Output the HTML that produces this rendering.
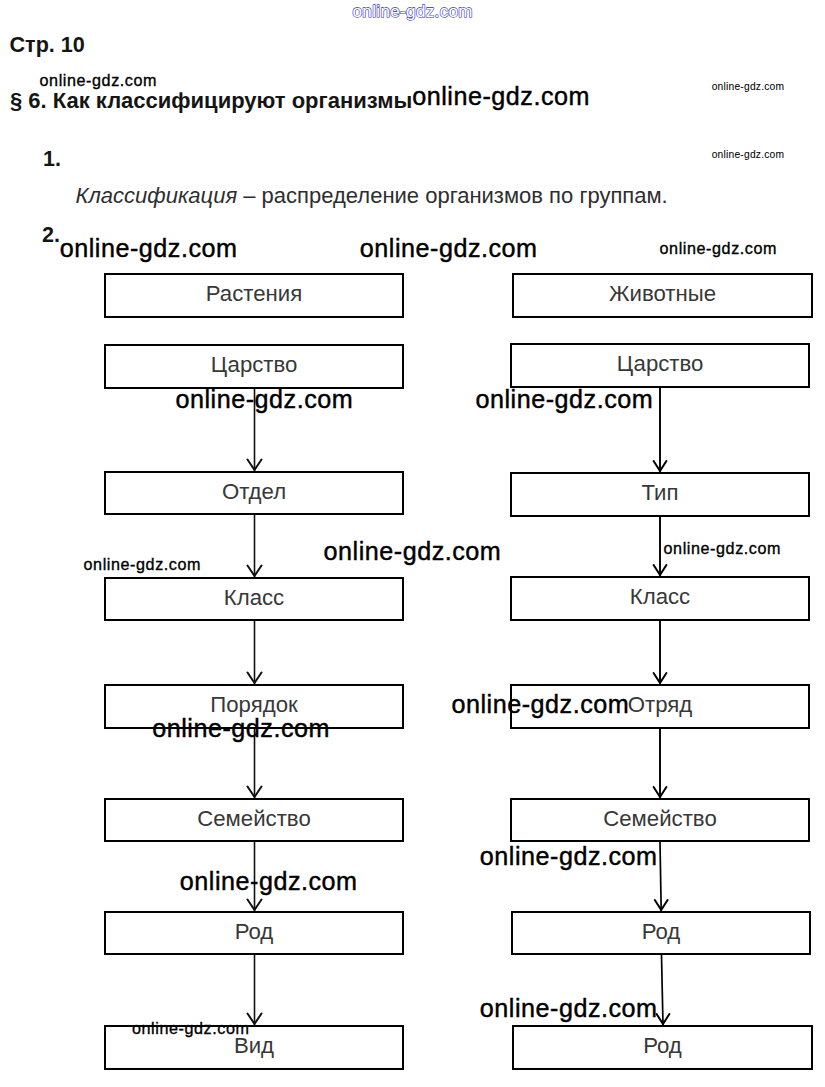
<!DOCTYPE html>
<html><head><meta charset="utf-8"><style>
html,body{margin:0;padding:0;background:#fff;}
svg{display:block;}
text{font-family:"Liberation Sans",sans-serif;}
.lb{font-size:22.2px;fill:#383838;}
.wm{fill:#000;}
.hd{font-weight:bold;fill:#151515;}
</style></head><body>
<svg width="825" height="1087" viewBox="0 0 825 1087">
<rect width="825" height="1087" fill="#fff"/>
<text x="352.5" y="17" font-size="17" textLength="120" lengthAdjust="spacing" fill="#2a2ad0" stroke="#2a2ad0" stroke-width="1.4" stroke-linejoin="round">online-gdz.com</text>
<text x="352.5" y="17" font-size="17" textLength="120" lengthAdjust="spacing" fill="#fff" stroke="#fff" stroke-width="0.25" stroke-linejoin="round">online-gdz.com</text>
<text x="9.5" y="51.9" font-size="21.6" class="hd">Стр. 10</text>
<text x="10" y="107.7" font-size="22" class="hd">§ 6. Как классифицируют организмы</text>
<text x="43" y="165.6" font-size="21.5" class="hd">1.</text>
<text x="42" y="241.6" font-size="21.5" class="hd">2.</text>
<text x="75.5" y="202.8" font-size="22" fill="#2e2e2e"><tspan font-style="italic">Классификация</tspan> – распределение организмов по группам.</text>
<rect x="105.0" y="274.0" width="298.0" height="43.0" fill="none" stroke="#000" stroke-width="2.0"/>
<text x="254.0" y="301" text-anchor="middle" class="lb">Растения</text>
<rect x="105.0" y="345.0" width="298.0" height="43.0" fill="none" stroke="#000" stroke-width="2.0"/>
<text x="254.0" y="372" text-anchor="middle" class="lb">Царство</text>
<rect x="105.0" y="472.0" width="298.0" height="42.0" fill="none" stroke="#000" stroke-width="2.0"/>
<text x="254.0" y="499" text-anchor="middle" class="lb">Отдел</text>
<rect x="105.0" y="578.0" width="298.0" height="42.0" fill="none" stroke="#000" stroke-width="2.0"/>
<text x="254.0" y="605" text-anchor="middle" class="lb">Класс</text>
<rect x="105.0" y="685.0" width="298.0" height="43.0" fill="none" stroke="#000" stroke-width="2.0"/>
<text x="254.0" y="712" text-anchor="middle" class="lb">Порядок</text>
<rect x="105.0" y="799.0" width="298.0" height="42.0" fill="none" stroke="#000" stroke-width="2.0"/>
<text x="254.0" y="826" text-anchor="middle" class="lb">Семейство</text>
<rect x="105.0" y="912.0" width="298.0" height="42.0" fill="none" stroke="#000" stroke-width="2.0"/>
<text x="254.0" y="939" text-anchor="middle" class="lb">Род</text>
<rect x="105.0" y="1026.0" width="298.0" height="43.0" fill="none" stroke="#000" stroke-width="2.0"/>
<text x="254.0" y="1053" text-anchor="middle" class="lb">Вид</text>
<rect x="513.0" y="274.0" width="299.0" height="43.0" fill="none" stroke="#000" stroke-width="2.0"/>
<text x="662.5" y="301" text-anchor="middle" class="lb">Животные</text>
<rect x="511.0" y="344.0" width="298.0" height="43.0" fill="none" stroke="#000" stroke-width="2.0"/>
<text x="660.0" y="371" text-anchor="middle" class="lb">Царство</text>
<rect x="511.0" y="473.0" width="298.0" height="43.0" fill="none" stroke="#000" stroke-width="2.0"/>
<text x="660.0" y="500" text-anchor="middle" class="lb">Тип</text>
<rect x="511.0" y="577.0" width="298.0" height="43.0" fill="none" stroke="#000" stroke-width="2.0"/>
<text x="660.0" y="604" text-anchor="middle" class="lb">Класс</text>
<rect x="511.0" y="685.0" width="298.0" height="43.0" fill="none" stroke="#000" stroke-width="2.0"/>
<text x="660.0" y="712" text-anchor="middle" class="lb">Отряд</text>
<rect x="511.0" y="799.0" width="298.0" height="42.0" fill="none" stroke="#000" stroke-width="2.0"/>
<text x="660.0" y="826" text-anchor="middle" class="lb">Семейство</text>
<rect x="512.0" y="912.0" width="298.0" height="42.0" fill="none" stroke="#000" stroke-width="2.0"/>
<text x="661.0" y="939" text-anchor="middle" class="lb">Род</text>
<rect x="513.0" y="1026.0" width="299.0" height="43.0" fill="none" stroke="#000" stroke-width="2.0"/>
<text x="662.5" y="1053" text-anchor="middle" class="lb">Род</text>
<line x1="254.5" y1="389" x2="254.5" y2="471" stroke="#111" stroke-width="1.6"/>
<polyline points="247.5,459.5 254.5,470 261.5,459.5" fill="none" stroke="#111" stroke-width="2" stroke-linejoin="round" stroke-linecap="round"/>
<line x1="254.5" y1="515" x2="254.5" y2="577" stroke="#111" stroke-width="1.6"/>
<polyline points="247.5,565.5 254.5,576 261.5,565.5" fill="none" stroke="#111" stroke-width="2" stroke-linejoin="round" stroke-linecap="round"/>
<line x1="254.5" y1="621" x2="254.5" y2="684" stroke="#111" stroke-width="1.6"/>
<polyline points="247.5,672.5 254.5,683 261.5,672.5" fill="none" stroke="#111" stroke-width="2" stroke-linejoin="round" stroke-linecap="round"/>
<line x1="254.5" y1="729" x2="254.5" y2="798" stroke="#111" stroke-width="1.6"/>
<polyline points="247.5,786.5 254.5,797 261.5,786.5" fill="none" stroke="#111" stroke-width="2" stroke-linejoin="round" stroke-linecap="round"/>
<line x1="254.5" y1="842" x2="254.5" y2="911" stroke="#111" stroke-width="1.6"/>
<polyline points="247.5,899.5 254.5,910 261.5,899.5" fill="none" stroke="#111" stroke-width="2" stroke-linejoin="round" stroke-linecap="round"/>
<line x1="254.5" y1="955" x2="254.5" y2="1025" stroke="#111" stroke-width="1.6"/>
<polyline points="247.5,1013.5 254.5,1024 261.5,1013.5" fill="none" stroke="#111" stroke-width="2" stroke-linejoin="round" stroke-linecap="round"/>
<line x1="660" y1="388" x2="660" y2="472" stroke="#000" stroke-width="1.9"/>
<polyline points="653.6,461 660,471 666.4,461" fill="none" stroke="#000" stroke-width="2" stroke-linejoin="round" stroke-linecap="round"/>
<line x1="660" y1="517" x2="660" y2="576" stroke="#000" stroke-width="1.9"/>
<polyline points="653.6,565 660,575 666.4,565" fill="none" stroke="#000" stroke-width="2" stroke-linejoin="round" stroke-linecap="round"/>
<line x1="660" y1="621" x2="660" y2="684" stroke="#000" stroke-width="1.9"/>
<polyline points="653.6,673 660,683 666.4,673" fill="none" stroke="#000" stroke-width="2" stroke-linejoin="round" stroke-linecap="round"/>
<line x1="660" y1="729" x2="660" y2="798" stroke="#000" stroke-width="1.9"/>
<polyline points="653.6,787 660,797 666.4,787" fill="none" stroke="#000" stroke-width="2" stroke-linejoin="round" stroke-linecap="round"/>
<line x1="660" y1="842" x2="661.2" y2="911" stroke="#000" stroke-width="1.7"/>
<polyline points="654.8000000000001,900 661.2,910 667.6,900" fill="none" stroke="#000" stroke-width="2" stroke-linejoin="round" stroke-linecap="round"/>
<line x1="661.5" y1="955" x2="663" y2="1025" stroke="#000" stroke-width="1.7"/>
<polyline points="656.6,1014 663,1024 669.4,1014" fill="none" stroke="#000" stroke-width="2" stroke-linejoin="round" stroke-linecap="round"/>
<text transform="translate(39.57,85.9) scale(0.95,1)" x="0" y="0" font-size="17.0" textLength="123.11" lengthAdjust="spacing" class="wm" stroke="#000" stroke-width="0.35">online-gdz.com</text>
<text transform="translate(412.17,104.6) scale(0.95,1)" x="0" y="0" font-size="26.5" textLength="186.60" lengthAdjust="spacing" class="wm" stroke="#000" stroke-width="0.45">online-gdz.com</text>
<text transform="translate(711.64,90.0) scale(0.95,1)" x="0" y="0" font-size="10.8" textLength="76.24" lengthAdjust="spacing" class="wm" stroke="#000" stroke-width="0.05">online-gdz.com</text>
<text transform="translate(711.64,157.9) scale(0.95,1)" x="0" y="0" font-size="10.8" textLength="76.24" lengthAdjust="spacing" class="wm" stroke="#000" stroke-width="0.05">online-gdz.com</text>
<text transform="translate(59.67,256.7) scale(0.95,1)" x="0" y="0" font-size="26.5" textLength="186.60" lengthAdjust="spacing" class="wm" stroke="#000" stroke-width="0.45">online-gdz.com</text>
<text transform="translate(359.77,256.7) scale(0.95,1)" x="0" y="0" font-size="26.5" textLength="186.60" lengthAdjust="spacing" class="wm" stroke="#000" stroke-width="0.45">online-gdz.com</text>
<text transform="translate(659.57,253.7) scale(0.95,1)" x="0" y="0" font-size="17.0" textLength="123.11" lengthAdjust="spacing" class="wm" stroke="#000" stroke-width="0.35">online-gdz.com</text>
<text transform="translate(175.47,408.0) scale(0.95,1)" x="0" y="0" font-size="26.5" textLength="186.60" lengthAdjust="spacing" class="wm" stroke="#000" stroke-width="0.45">online-gdz.com</text>
<text transform="translate(475.47,408.0) scale(0.95,1)" x="0" y="0" font-size="26.5" textLength="186.60" lengthAdjust="spacing" class="wm" stroke="#000" stroke-width="0.45">online-gdz.com</text>
<text transform="translate(83.57,569.7) scale(0.95,1)" x="0" y="0" font-size="17.0" textLength="123.11" lengthAdjust="spacing" class="wm" stroke="#000" stroke-width="0.35">online-gdz.com</text>
<text transform="translate(323.57,560.3) scale(0.95,1)" x="0" y="0" font-size="26.5" textLength="186.60" lengthAdjust="spacing" class="wm" stroke="#000" stroke-width="0.45">online-gdz.com</text>
<text transform="translate(663.57,553.8) scale(0.95,1)" x="0" y="0" font-size="17.0" textLength="123.11" lengthAdjust="spacing" class="wm" stroke="#000" stroke-width="0.35">online-gdz.com</text>
<text transform="translate(451.47,712.7) scale(0.95,1)" x="0" y="0" font-size="26.5" textLength="186.60" lengthAdjust="spacing" class="wm" stroke="#000" stroke-width="0.45">online-gdz.com</text>
<text transform="translate(152.17,737.0) scale(0.95,1)" x="0" y="0" font-size="26.5" textLength="186.60" lengthAdjust="spacing" class="wm" stroke="#000" stroke-width="0.45">online-gdz.com</text>
<text transform="translate(479.77,865.3) scale(0.95,1)" x="0" y="0" font-size="26.5" textLength="186.60" lengthAdjust="spacing" class="wm" stroke="#000" stroke-width="0.45">online-gdz.com</text>
<text transform="translate(179.77,889.5) scale(0.95,1)" x="0" y="0" font-size="26.5" textLength="186.60" lengthAdjust="spacing" class="wm" stroke="#000" stroke-width="0.45">online-gdz.com</text>
<text transform="translate(479.77,1016.5) scale(0.95,1)" x="0" y="0" font-size="26.5" textLength="186.60" lengthAdjust="spacing" class="wm" stroke="#000" stroke-width="0.45">online-gdz.com</text>
<text transform="translate(131.97,1033.8) scale(0.95,1)" x="0" y="0" font-size="17.0" textLength="123.11" lengthAdjust="spacing" class="wm" stroke="#000" stroke-width="0.35">online-gdz.com</text>
</svg>
</body></html>
